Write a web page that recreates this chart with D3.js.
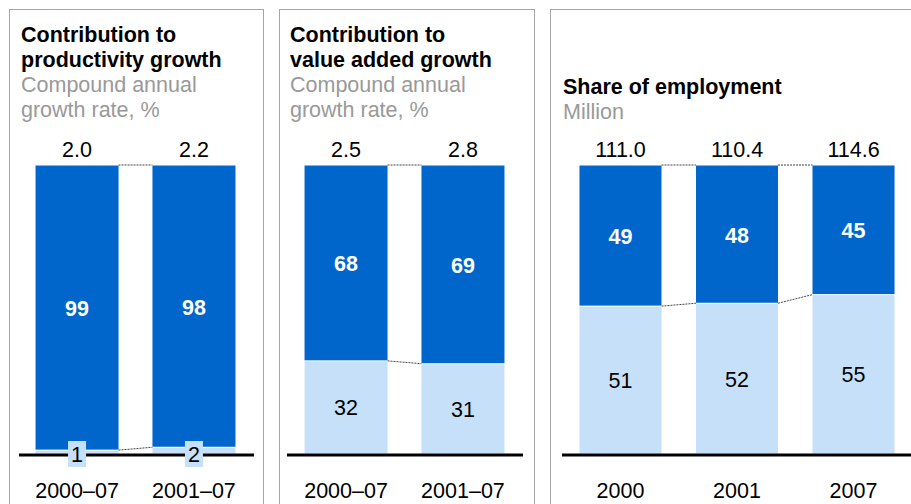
<!DOCTYPE html>
<html><head><meta charset="utf-8">
<script src="https://cdn.jsdelivr.net/npm/d3@7"></script>
<style>body{margin:0;background:#fff}svg{display:block;font-family:"Liberation Sans",Arial,sans-serif}</style>
</head><body><svg id="c" width="911" height="504"></svg>
<script>
// Data
const categoriesA = ["2000–07", "2001–07"];
const productivityDark = [99, 98];
const productivityLight = [1, 2];
const productivityTotals = ["2.0", "2.2"];

const valueAddedDark = [68, 69];
const valueAddedLight = [32, 31];
const valueAddedTotals = ["2.5", "2.8"];

const categoriesB = ["2000", "2001", "2007"];
const employmentDark = [49, 48, 45];
const employmentLight = [51, 52, 55];
const employmentTotals = ["111.0", "110.4", "114.6"];

const titles = [
  {title: ["Contribution to", "productivity growth"], sub: ["Compound annual", "growth rate, %"]},
  {title: ["Contribution to", "value added growth"], sub: ["Compound annual", "growth rate, %"]},
  {title: ["Share of employment"], sub: ["Million"]}
];

const DARK = "#0066cc", LIGHT = "#c7e0f9";
const FS = 21.5;
const svg = d3.select("#c");
const y = d3.scaleLinear().domain([0, 100]).range([453.5, 165.5]);

const panels = [
  {box: [9, 263], range: [18, 253], pi: 0.29, cats: categoriesA, dark: productivityDark, light: productivityLight, totals: productivityTotals, base: [19, 254], tx: 21, t: titles[0], smallLight: true},
  {box: [279, 534], range: [287, 522], pi: 0.29, cats: categoriesA, dark: valueAddedDark, light: valueAddedLight, totals: valueAddedTotals, base: [287, 523], tx: 290, t: titles[1]},
  {box: [550, 960], range: [562, 912], pi: 0.296, cats: categoriesB, dark: employmentDark, light: employmentLight, totals: employmentTotals, base: [562, 911], tx: 563, t: titles[2]}
];

panels.forEach(p => {
  const g = svg.append("g");
  g.append("rect").attr("x", p.box[0] + 0.5).attr("y", 9.5)
    .attr("width", p.box[1] - p.box[0]).attr("height", 600)
    .attr("fill", "none").attr("stroke", "#a6a6a6").attr("stroke-width", 1);

  // titles
  const nT = p.t.title.length;
  const startY = nT === 2 ? 42 : 94;
  p.t.title.forEach((s, i) => g.append("text").attr("x", p.tx).attr("y", startY + i * 25)
    .attr("font-size", FS).attr("font-weight", "bold").attr("fill", "#000").text(s));
  p.t.sub.forEach((s, i) => g.append("text").attr("x", p.tx).attr("y", startY + (nT + i) * 25)
    .attr("font-size", FS).attr("fill", "#999").text(s));

  const x = d3.scaleBand().domain(p.cats).range(p.range).paddingInner(p.pi).paddingOuter(0.15);
  const data = p.cats.map((c, i) => ({c, d: p.dark[i], l: p.light[i], t: p.totals[i]}));

  // connectors
  for (let i = 0; i < data.length - 1; i++) {
    const x1 = x(data[i].c) + x.bandwidth(), x2 = x(data[i + 1].c);
    [[100, 100], [data[i].l, data[i + 1].l]].forEach(([a, b]) => {
      g.append("line").attr("x1", x1).attr("x2", x2).attr("y1", y(a) - 0.5).attr("y2", y(b) - 0.5)
        .attr("stroke", "#444").attr("stroke-width", 1).attr("stroke-dasharray", "2,1");
    });
  }

  const bars = g.selectAll(".bar").data(data).enter().append("g");
  bars.append("rect").attr("x", d => x(d.c)).attr("width", x.bandwidth())
    .attr("y", d => y(d.l)).attr("height", d => y(0) - y(d.l)).attr("fill", LIGHT);
  bars.append("rect").attr("x", d => x(d.c)).attr("width", x.bandwidth())
    .attr("y", d => y(100)).attr("height", d => y(d.l) - y(100) - 1).attr("fill", DARK);

  // dark labels
  bars.append("text").attr("x", d => x(d.c) + x.bandwidth() / 2)
    .attr("y", d => (y(100) + y(d.l)) / 2 + 8).attr("text-anchor", "middle")
    .attr("font-size", FS).attr("font-weight", "bold").attr("fill", "#fff").text(d => d.d);

  // totals
  bars.append("text").attr("x", d => x(d.c) + x.bandwidth() / 2).attr("y", 157)
    .attr("text-anchor", "middle").attr("font-size", FS).attr("fill", "#000").text(d => d.t);

  // baseline
  g.append("line").attr("x1", p.base[0]).attr("x2", p.base[1]).attr("y1", 455).attr("y2", 455)
    .attr("stroke", "#000").attr("stroke-width", 3);

  // light labels (drawn above baseline)
  const lab = g.selectAll(".lab").data(data).enter().append("g");
  if (p.smallLight) {
    lab.append("rect").attr("x", d => x(d.c) + x.bandwidth() / 2 - 9).attr("y", 441)
      .attr("width", 18).attr("height", 26).attr("fill", LIGHT);
    lab.append("text").attr("x", d => x(d.c) + x.bandwidth() / 2).attr("y", 462)
      .attr("text-anchor", "middle").attr("font-size", FS).attr("fill", "#000").text(d => d.l);
  } else {
    lab.append("text").attr("x", d => x(d.c) + x.bandwidth() / 2)
      .attr("y", d => (y(0) + y(d.l)) / 2 + 8).attr("text-anchor", "middle")
      .attr("font-size", FS).attr("fill", "#000").text(d => d.l);
  }

  // category labels
  lab.append("text").attr("x", d => x(d.c) + x.bandwidth() / 2).attr("y", 498)
    .attr("text-anchor", "middle").attr("font-size", FS).attr("fill", "#000").text(d => d.c);
});
</script></body></html>
